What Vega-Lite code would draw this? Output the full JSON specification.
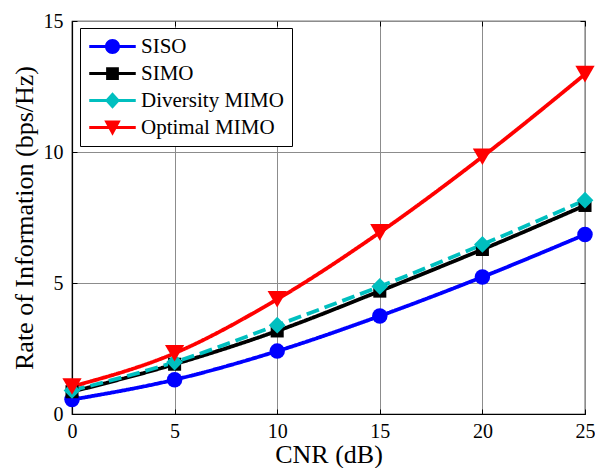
{
  "$schema": "https://vega.github.io/schema/vega-lite/v6.json",
  "autosize": {"type": "none"},
  "width": 513,
  "height": 393,
  "padding": {"left": 72, "top": 21, "right": 10, "bottom": 54},
  "background": "white",
  "config": {
    "view": {"stroke": "black", "strokeWidth": 1.2},
    "font": "Liberation Serif",
    "axis": {
      "labelFont": "Liberation Serif",
      "titleFont": "Liberation Serif",
      "labelColor": "black",
      "titleColor": "black",
      "titleFontWeight": "normal",
      "domainColor": "black",
      "tickColor": "black",
      "gridColor": "#8c8c8c",
      "gridWidth": 1,
      "gridOpacity": 1
    },
    "legend": {
      "orient": "none", "legendX": 8, "legendY": 7,
      "fillColor": "white", "strokeColor": "black", "padding": 8,
      "labelFont": "Liberation Serif", "labelFontSize": 21, "labelColor": "black",
      "symbolSize": 225, "symbolOffset": 14, "labelOffset": 18, "rowPadding": 5,
      "symbolStrokeWidth": 0
    }
  },
  "data": {
    "values": [
      {"series": "SISO", "cnr": 0, "rate": 0.55},
      {"series": "SISO", "cnr": 5, "rate": 1.31},
      {"series": "SISO", "cnr": 10, "rate": 2.4},
      {"series": "SISO", "cnr": 15, "rate": 3.74},
      {"series": "SISO", "cnr": 20, "rate": 5.23},
      {"series": "SISO", "cnr": 25, "rate": 6.85},
      {"series": "SIMO", "cnr": 0, "rate": 0.85},
      {"series": "SIMO", "cnr": 5, "rate": 1.9},
      {"series": "SIMO", "cnr": 10, "rate": 3.17},
      {"series": "SIMO", "cnr": 15, "rate": 4.69},
      {"series": "SIMO", "cnr": 20, "rate": 6.28},
      {"series": "SIMO", "cnr": 25, "rate": 7.96},
      {"series": "Diversity MIMO", "cnr": 0, "rate": 0.9},
      {"series": "Diversity MIMO", "cnr": 5, "rate": 1.98},
      {"series": "Diversity MIMO", "cnr": 10, "rate": 3.39},
      {"series": "Diversity MIMO", "cnr": 15, "rate": 4.87},
      {"series": "Diversity MIMO", "cnr": 20, "rate": 6.47},
      {"series": "Diversity MIMO", "cnr": 25, "rate": 8.16},
      {"series": "Optimal MIMO", "cnr": 0, "rate": 1.05},
      {"series": "Optimal MIMO", "cnr": 5, "rate": 2.32},
      {"series": "Optimal MIMO", "cnr": 10, "rate": 4.38},
      {"series": "Optimal MIMO", "cnr": 15, "rate": 6.93},
      {"series": "Optimal MIMO", "cnr": 20, "rate": 9.82},
      {"series": "Optimal MIMO", "cnr": 25, "rate": 12.97}
    ]
  },
  "layer": [
    {
      "mark": {"type": "line", "strokeWidth": 3.8, "interpolate": "monotone"},
      "encoding": {
        "x": {
          "field": "cnr", "type": "quantitative",
          "scale": {"domain": [0, 25], "nice": false},
          "axis": {
            "title": "CNR (dB)", "titleFontSize": 26, "titlePadding": 0,
            "labelFontSize": 20, "values": [0, 5, 10, 15, 20, 25],
            "tickSize": -5, "labelPadding": 12, "labelFlush": false,
            "domainWidth": 1.2, "grid": true
          }
        },
        "y": {
          "field": "rate", "type": "quantitative",
          "scale": {"domain": [0, 15], "nice": false},
          "axis": {
            "title": "Rate of Information (bps/Hz)", "titleFontSize": 26, "titlePadding": 6,
            "labelFontSize": 20, "values": [0, 5, 10, 15],
            "tickSize": -5, "labelPadding": 14, "labelFlush": false,
            "domainWidth": 1.2, "grid": true
          }
        },
        "color": {
          "field": "series", "type": "nominal",
          "scale": {
            "domain": ["SISO", "SIMO", "Diversity MIMO", "Optimal MIMO"],
            "range": ["#0000ff", "#000000", "#00bfbf", "#ff0000"]
          },
          "legend": {
            "title": null,
            "encode": {
              "symbols": {
                "update": {
                  "shape": {"signal": "datum.value === 'SISO' ? 'M-1,0A1,1 0 1,1 1,0A1,1 0 1,1 -1,0Z M-3.1,-0.2H3.1V0.2H-3.1Z' : datum.value === 'SIMO' ? 'M-0.85,-0.85H0.85V0.85H-0.85Z M-3.1,-0.2H3.1V0.2H-3.1Z' : datum.value === 'Diversity MIMO' ? 'M0,-1.1L1,0L0,1.1L-1,0Z M-3.1,-0.2H3.1V0.2H-3.1Z' : 'M-1.1,-0.95H1.1L0,1.1Z M-3.1,-0.2H3.1V0.2H-3.1Z'"},
                  "size": {"value": 225},
                  "fill": {"scale": "color", "field": "value"},
                  "strokeWidth": {"value": 0},
                  "opacity": {"value": 1}
                }
              }
            }
          }
        },
        "strokeDash": {
          "field": "series", "type": "nominal",
          "scale": {
            "domain": ["SISO", "SIMO", "Diversity MIMO", "Optimal MIMO"],
            "range": [[1, 0], [1, 0], [13, 6], [1, 0]]
          },
          "legend": null
        }
      }
    },
    {
      "transform": [{"filter": "datum.series === 'SISO'"}],
      "mark": {"type": "point", "filled": true, "opacity": 1, "shape": "circle", "size": 240},
      "encoding": {
        "x": {
          "field": "cnr", "type": "quantitative",
          "axis": {"orient": "top", "title": null, "labels": false, "grid": false, "domain": false, "tickSize": -5, "values": [0, 5, 10, 15, 20, 25]}
        },
        "y": {
          "field": "rate", "type": "quantitative",
          "axis": {"orient": "right", "title": null, "labels": false, "grid": false, "domain": false, "tickSize": -5, "values": [0, 5, 10, 15]}
        },
        "color": {"field": "series", "type": "nominal"}
      }
    },
    {
      "transform": [{"filter": "datum.series === 'SIMO'"}],
      "mark": {"type": "point", "filled": true, "opacity": 1, "shape": "square", "size": 170},
      "encoding": {
        "x": {"field": "cnr", "type": "quantitative", "axis": null},
        "y": {"field": "rate", "type": "quantitative", "axis": null},
        "color": {"field": "series", "type": "nominal"}
      }
    },
    {
      "transform": [{"filter": "datum.series === 'Diversity MIMO'"}],
      "mark": {"type": "point", "filled": true, "opacity": 1, "shape": "diamond", "size": 280},
      "encoding": {
        "x": {"field": "cnr", "type": "quantitative", "axis": null},
        "y": {"field": "rate", "type": "quantitative", "axis": null},
        "color": {"field": "series", "type": "nominal"}
      }
    },
    {
      "transform": [{"filter": "datum.series === 'Optimal MIMO'"}],
      "mark": {"type": "point", "filled": true, "opacity": 1, "shape": "triangle-down", "size": 370},
      "encoding": {
        "x": {"field": "cnr", "type": "quantitative", "axis": null},
        "y": {"field": "rate", "type": "quantitative", "axis": null},
        "color": {"field": "series", "type": "nominal"}
      }
    }
  ],
  "resolve": {"axis": {"x": "independent", "y": "independent"}}
}
